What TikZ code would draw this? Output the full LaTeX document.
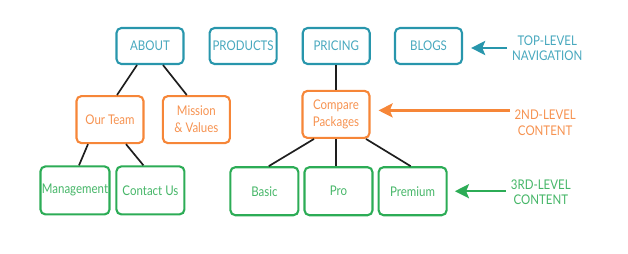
\documentclass[tikz,border=0pt]{standalone}
\usepackage{fontspec}
\setmainfont[FakeStretch=0.86]{Lato}
\usepackage{xcolor}
\usepackage{tikz}
\usetikzlibrary{arrows.meta, positioning}
\definecolor{navteal}{RGB}{40,150,172}
\definecolor{navtext}{RGB}{72,168,190}
\definecolor{secorange}{RGB}{246,134,56}
\definecolor{sectext}{RGB}{246,146,80}
\definecolor{thirdgreen}{RGB}{44,172,86}
\definecolor{thirdtext}{RGB}{70,182,104}
\definecolor{linkgray}{RGB}{30,30,30}
\tikzset{
  box/.style={rectangle, rounded corners=3.5pt, line width=1.5pt, draw,
    align=center, inner sep=1pt, font=\fontsize{9.5}{12}\selectfont},
  navbox/.style={box, minimum width=1.675cm, minimum height=0.9cm, draw=navteal, text=navtext},
  secbox/.style={box, minimum width=1.675cm, minimum height=1.175cm, draw=secorange, text=sectext},
  thirdbox/.style={box, minimum width=1.7cm, minimum height=1.2cm, draw=thirdgreen, text=thirdtext},
  legend/.style={align=center, font=\fontsize{9.5}{11}\selectfont},
  link/.style={line width=1.2pt, color=linkgray},
  levelarrow/.style={-{Stealth[length=10pt, width=10pt, inset=2pt]}, line width=1.8pt},
}

\begin{document}
\begin{tikzpicture}
  \useasboundingbox (0,0) rectangle (15.7,-6.35);
  % top level
  \node[navbox] (about) at (3.75,-1.15) {ABOUT};
  \node[navbox, right=0.6cm of about] (products) {PRODUCTS};
  \node[navbox, right=0.6cm of products] (pricing) {PRICING};
  \node[navbox, right=0.58cm of pricing] (blogs) {BLOGS};
  % second level
  \node[secbox] (team) at (2.75,-2.99) {Our Team};
  \node[secbox] (mission) at (4.91,-2.99) {Mission\\\& Values};
  \node[secbox] (compare) at (8.4,-2.86) {Compare\\Packages};
  % third level
  \node[thirdbox] (mgmt) at (1.875,-4.76) {Management};
  \node[thirdbox, right=0.12cm of mgmt] (contact) {Contact Us};
  \node[thirdbox] (basic) at (6.61,-4.78) {Basic};
  \node[thirdbox, right=0.1cm of basic] (pro) {Pro};
  \node[thirdbox, right=0.1cm of pro] (premium) {Premium};
  % legend
  \node[legend, text=navtext] (navlabel) at (13.68,-1.2) {TOP-LEVEL\\NAVIGATION};
  \node[legend, text=sectext] (seclabel) at (13.63,-3.07) {2ND-LEVEL\\CONTENT};
  \node[legend, text=thirdtext] (thirdlabel) at (13.52,-4.8) {3RD-LEVEL\\CONTENT};

  \draw[link] ([xshift=-0.325cm]about.south) -- ([xshift=0.175cm]team.north);
  \draw[link] ([xshift=0.325cm]about.south) -- ([xshift=-0.24cm]mission.north);
  \draw[link] (pricing.south) -- (pricing.south |- compare.north);
  \draw[link] ([xshift=-0.55cm]team.south) -- ([xshift=0.1cm]mgmt.north);
  \draw[link] ([xshift=0.4cm]team.south) -- ([xshift=-0.175cm]contact.north);
  \draw[link] ([xshift=-0.55cm]compare.south) -- ([xshift=0.11cm]basic.north);
  \draw[link] (compare.south) -- (compare.south |- pro.north);
  \draw[link] ([xshift=0.75cm]compare.south) -- ([xshift=-0.05cm]premium.north);

  \draw[levelarrow, navteal] ([yshift=-0.05cm]navlabel.west |- blogs.east) -- ([xshift=0.2cm, yshift=-0.05cm]blogs.east);
  \draw[levelarrow, secorange] ([yshift=0.1cm]seclabel.west |- compare.east) -- ([xshift=0.2cm, yshift=0.1cm]compare.east);
  \draw[levelarrow, thirdgreen] (thirdlabel.west |- premium.east) -- ([xshift=0.18cm]premium.east);
\end{tikzpicture}
\end{document}
